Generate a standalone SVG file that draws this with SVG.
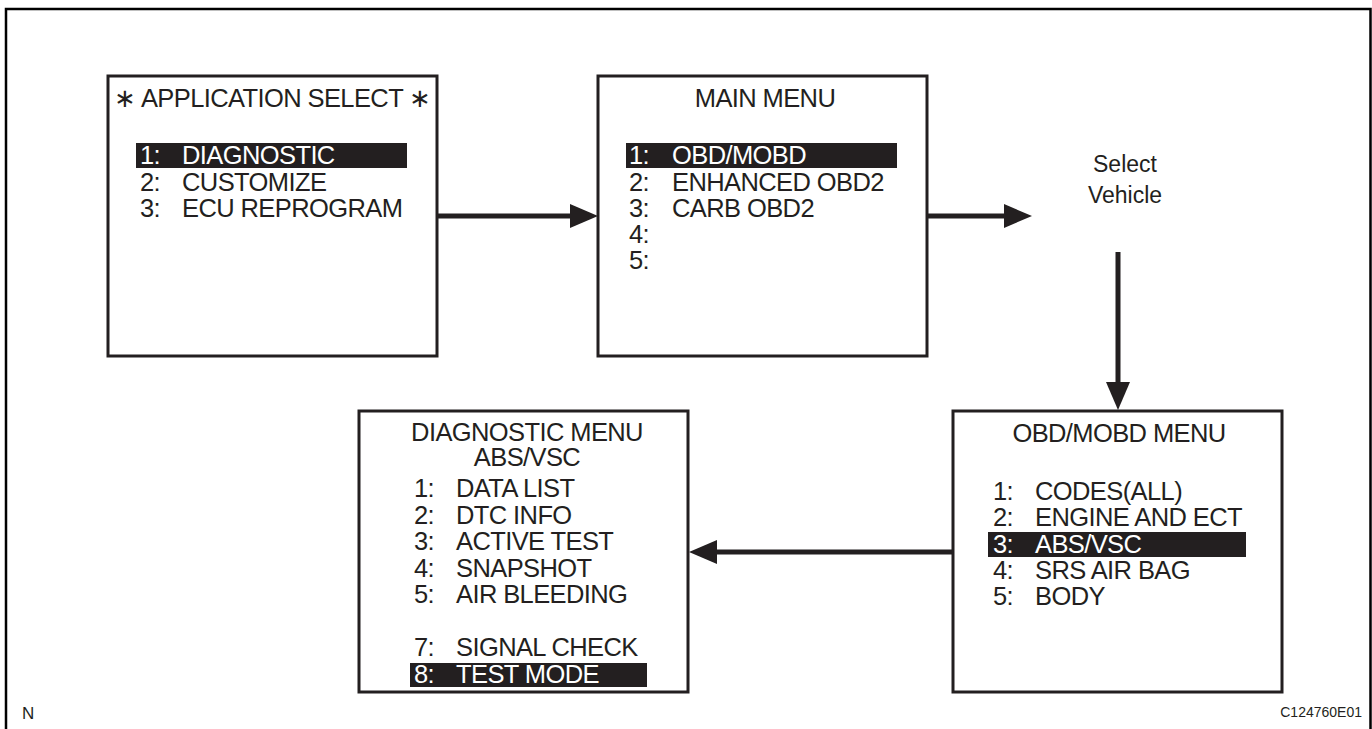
<svg xmlns="http://www.w3.org/2000/svg" width="1372" height="729" viewBox="0 0 1372 729">
<style>
  .frame{fill:none;stroke:#000;stroke-width:2.5}
  .box{fill:#fff;stroke:#231f20;stroke-width:3}
  .t{font-family:"Liberation Sans",Arial,sans-serif;font-size:25.5px;letter-spacing:-0.6px;fill:#231f20}
  .c{text-anchor:middle}
  .hl{fill:#231f20}
  .w{fill:#fff}
  .conn{stroke:#231f20;stroke-width:5;fill:none}
  .small{font-family:"Liberation Sans",Arial,sans-serif;fill:#231f20}
</style>
<defs>
  <marker id="ah" markerUnits="userSpaceOnUse" markerWidth="28" markerHeight="24" refX="18" refY="12" orient="auto" viewBox="0 0 28 24">
    <path d="M0,0 L28,12 L0,24 z" fill="#231f20"/>
  </marker>
</defs>
<rect width="1372" height="729" fill="#fff"/>
<path class="frame" d="M6,729 V9 H1370.5 V729"/>

<g id="app-select">
  <rect class="box" x="108" y="76" width="329" height="280"/>
  <text class="t c" x="272.5" y="107">∗ APPLICATION SELECT ∗</text>
  <rect class="hl" x="136" y="143" width="271" height="25"/>
  <text class="t w" x="140" y="164">1:</text><text class="t w" x="182" y="164">DIAGNOSTIC</text>
  <text class="t" x="140" y="190.5">2:</text><text class="t" x="182" y="190.5">CUSTOMIZE</text>
  <text class="t" x="140" y="217">3:</text><text class="t" x="182" y="217">ECU REPROGRAM</text>
</g>

<g id="main-menu">
  <rect class="box" x="598" y="76" width="329" height="280"/>
  <text class="t c" x="765" y="107">MAIN MENU</text>
  <rect class="hl" x="626" y="143" width="271" height="25"/>
  <text class="t w" x="629" y="164">1:</text><text class="t w" x="672" y="164">OBD/MOBD</text>
  <text class="t" x="629" y="190.5">2:</text><text class="t" x="672" y="190.5">ENHANCED OBD2</text>
  <text class="t" x="629" y="217">3:</text><text class="t" x="672" y="217">CARB OBD2</text>
  <text class="t" x="629" y="243">4:</text>
  <text class="t" x="629" y="269">5:</text>
</g>

<g id="select-vehicle">
  <text class="small c" font-size="23" x="1125" y="172">Select</text>
  <text class="small c" font-size="23" x="1125" y="203">Vehicle</text>
</g>

<g id="obd-menu">
  <rect class="box" x="953" y="411" width="329" height="281"/>
  <text class="t c" x="1119" y="442">OBD/MOBD MENU</text>
  <text class="t" x="993" y="500">1:</text><text class="t" x="1035" y="500">CODES(ALL)</text>
  <text class="t" x="993" y="526">2:</text><text class="t" x="1035" y="526">ENGINE AND ECT</text>
  <rect class="hl" x="988" y="532" width="258" height="25"/>
  <text class="t w" x="993" y="552.5">3:</text><text class="t w" x="1035" y="552.5">ABS/VSC</text>
  <text class="t" x="993" y="579">4:</text><text class="t" x="1035" y="579">SRS AIR BAG</text>
  <text class="t" x="993" y="605">5:</text><text class="t" x="1035" y="605">BODY</text>
</g>

<g id="diag-menu">
  <rect class="box" x="359" y="411" width="329" height="281"/>
  <text class="t c" x="527" y="441">DIAGNOSTIC MENU</text>
  <text class="t c" x="527" y="466">ABS/VSC</text>
  <text class="t" x="414" y="497">1:</text><text class="t" x="456" y="497">DATA LIST</text>
  <text class="t" x="414" y="523.5">2:</text><text class="t" x="456" y="523.5">DTC INFO</text>
  <text class="t" x="414" y="550">3:</text><text class="t" x="456" y="550">ACTIVE TEST</text>
  <text class="t" x="414" y="576.5">4:</text><text class="t" x="456" y="576.5">SNAPSHOT</text>
  <text class="t" x="414" y="603">5:</text><text class="t" x="456" y="603">AIR BLEEDING</text>
  <text class="t" x="414" y="656">7:</text><text class="t" x="456" y="656">SIGNAL CHECK</text>
  <rect class="hl" x="410" y="663" width="237" height="24"/>
  <text class="t w" x="414" y="683">8:</text><text class="t w" x="456" y="683">TEST MODE</text>
</g>

<g id="connectors">
  <line class="conn" x1="438" y1="216" x2="588" y2="216" marker-end="url(#ah)"/>
  <line class="conn" x1="928" y1="216" x2="1022" y2="216" marker-end="url(#ah)"/>
  <line class="conn" x1="1118" y1="252" x2="1118" y2="400" marker-end="url(#ah)"/>
  <line class="conn" x1="952" y1="552" x2="699" y2="552" marker-end="url(#ah)"/>
</g>

<text class="small" font-size="17" x="22" y="719">N</text>
<text class="small" font-size="14" x="1362" y="717" text-anchor="end">C124760E01</text>
</svg>
